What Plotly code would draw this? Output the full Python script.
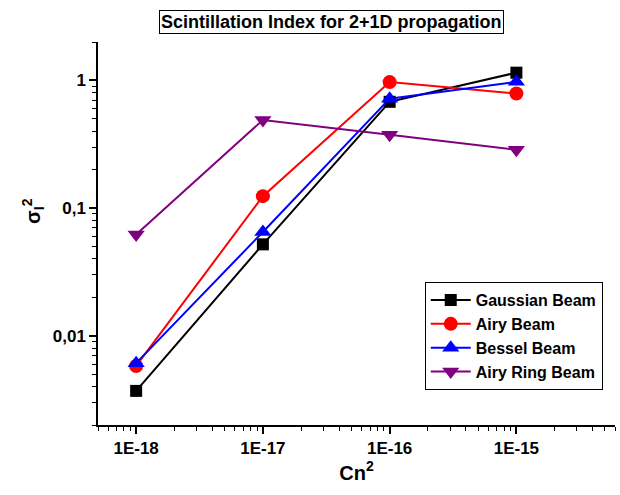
import numpy as np
import plotly.graph_objects as go

# ---- data ----
cn2 = [1e-18, 1e-17, 1e-16, 1e-15]
gaussian = [0.0037, 0.052, 0.68, 1.15]
airy = [0.0058, 0.124, 0.97, 0.79]
bessel = [0.0061, 0.065, 0.72, 0.975]
airy_ring = [0.062, 0.49, 0.375, 0.286]

x_tickvals = [1e-18, 1e-17, 1e-16, 1e-15]
x_ticktext = ["1E-18", "1E-17", "1E-16", "1E-15"]
y_tickvals = [0.01, 0.1, 1]
y_ticktext = ["0,01", "0,1", "1"]

series = [
    ("Gaussian Beam", gaussian, "black", "square", 12),
    ("Airy Beam", airy, "#FF0000", "circle", 14),
    ("Bessel Beam", bessel, "#0000FF", "triangle-up", 15),
    ("Airy Ring Beam", airy_ring, "#800080", "triangle-down", 15),
]

FONT = "Liberation Sans, Arial, sans-serif"

fig = go.Figure()
for name, vals, col, sym, sz in series:
    fig.add_trace(go.Scatter(
        x=cn2, y=vals, name=name, mode="lines+markers",
        line=dict(color=col, width=2),
        marker=dict(color=col, symbol=sym, size=sz, line=dict(width=0)),
    ))

axis_common = dict(
    type="log", showline=True, linecolor="black", linewidth=1.5,
    ticks="outside", ticklen=7, tickwidth=1.5, tickcolor="black",
    showgrid=False, zeroline=False, mirror=False,
    tickfont=dict(family=FONT, size=17, color="black", weight="bold"),
    minor=dict(ticks="outside", ticklen=4, tickwidth=1, tickcolor="black",
               dtick="D1", showgrid=False),
)

fig.update_xaxes(
    range=[np.log10(5e-19), np.log10(6e-15)],
    tickmode="array", tickvals=x_tickvals, ticktext=x_ticktext,
    title=dict(text="Cn<sup>2</sup>", font=dict(family=FONT, size=20, color="black", weight="bold"),
               standoff=8),
    **axis_common,
)
fig.update_yaxes(
    range=[np.log10(0.002), np.log10(2)],
    tickmode="array", tickvals=y_tickvals, ticktext=y_ticktext,
    **axis_common,
)

fig.add_annotation(
    text="σ<sub>I</sub><sup>2</sup>", textangle=-90,
    xref="paper", yref="paper", x=-0.125, y=0.56,
    showarrow=False, xanchor="center", yanchor="middle",
    font=dict(family=FONT, size=20, color="black", weight="bold"),
)

fig.add_annotation(
    text="Scintillation Index for 2+1D propagation",
    xref="paper", yref="paper", x=0.451, y=1.052,
    showarrow=False, xanchor="center", yanchor="middle",
    font=dict(family=FONT, size=18, color="black", weight="bold"),
    bordercolor="black", borderwidth=1, borderpad=1, bgcolor="white",
)

fig.update_layout(
    width=620, height=495,
    margin=dict(l=98, r=5, t=42, b=70),
    plot_bgcolor="white", paper_bgcolor="white",
    legend=dict(
        x=0.632, y=0.373, xanchor="left", yanchor="top",
        bordercolor="black", borderwidth=1, bgcolor="white",
        font=dict(family=FONT, size=16, color="black", weight="bold"),
        tracegroupgap=0, itemwidth=40,
    ),
    showlegend=True,
)

fig.write_html("out.html")
